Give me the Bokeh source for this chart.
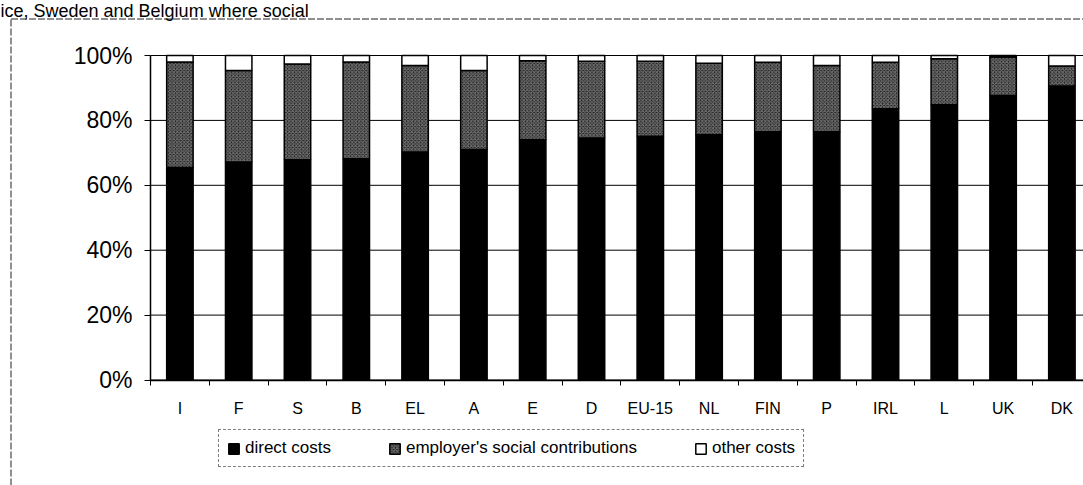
import numpy as np
from bokeh.plotting import figure
from bokeh.models import Range1d, FixedTicker, Legend, LegendItem, ColumnDataSource, Label
from bokeh.embed import file_html
from bokeh.resources import INLINE

# ---- data -------------------------------------------------------------
countries = ["I", "F", "S", "B", "EL", "A", "E", "D", "EU-15",
             "NL", "FIN", "P", "IRL", "L", "UK", "DK"]
direct_costs = [65.5, 67.2, 67.9, 68.2, 70.3, 71.0, 74.0, 74.6, 75.1,
                75.6, 76.5, 76.5, 83.6, 84.8, 87.7, 90.6]
social_contributions = [32.5, 28.2, 29.5, 29.8, 26.6, 24.4, 24.4, 23.6, 23.1,
                        22.0, 21.4, 20.4, 14.3, 14.2, 11.8, 6.2]
other_costs = [2.0, 4.6, 2.6, 2.0, 3.1, 4.6, 1.6, 1.8, 1.8,
               2.4, 2.1, 3.1, 2.1, 1.0, 0.5, 3.2]
y_tick_values = [0, 20, 40, 60, 80, 100]
y_tick_labels = ["0%", "20%", "40%", "60%", "80%", "100%"]
legend_labels = ["direct costs", "employer's social contributions", "other costs"]
caption_text = "ice, Sweden and Belgium where social"

# ---- derived ----------------------------------------------------------
n = len(countries)
xpos = np.arange(n) + 0.5
d = np.array(direct_costs)
s = np.array(social_contributions)
o = np.array(other_costs)
src = ColumnDataSource(dict(x=xpos, d_top=d, s_top=d + s, o_top=d + s + o))

FONT = "Liberation Sans"

# geometry (pixels): the frame fills the whole canvas; axes sit inside it
W, H = 1083, 485
PX_PER_CAT = 58.8
PX_PER_PCT = 3.245
AXIS_X = 150.0      # y axis, px from left
ZERO_Y = 379.5      # 0 % line, px from top
BORDER_X = 10.5     # outer chart border (left)
BORDER_Y = 18.5     # outer chart border (top)

x0 = -AXIS_X / PX_PER_CAT
x1 = x0 + W / PX_PER_CAT
y1 = ZERO_Y / PX_PER_PCT
y0 = y1 - H / PX_PER_PCT

p = figure(width=W, height=H,
           x_range=Range1d(x0, x1), y_range=Range1d(y0, y1),
           output_backend="svg", toolbar_location=None,
           min_border_left=0, min_border_right=0,
           min_border_top=0, min_border_bottom=0)
p.outline_line_color = None
p.background_fill_color = "white"
p.border_fill_color = "white"

# caption (scanned document text at the top)
p.add_layout(Label(x=x0, y=y1, text=caption_text, text_font=FONT,
                   text_font_size="18px", text_color="black",
                   text_baseline="top", text_align="left"))

# outer chart border (left and top edges)
bx = x0 + BORDER_X / PX_PER_CAT
by = y1 - BORDER_Y / PX_PER_PCT
p.segment(x0=[bx, bx], y0=[y0, by], x1=[bx, x1], y1=[by, by],
          line_color="#222222", line_width=1, line_dash="7 2")

# gridlines
p.xgrid.visible = False
p.ygrid.visible = False
p.segment(x0=[0] * len(y_tick_values), x1=[n] * len(y_tick_values),
          y0=y_tick_values, y1=y_tick_values, line_color="black", line_width=1)

bw = 0.45
r_d = p.vbar(x="x", bottom=0, top="d_top", width=bw, source=src,
             fill_color="black", line_color="black", line_width=1.5)
r_s = p.vbar(x="x", bottom="d_top", top="s_top", width=bw, source=src,
             fill_color="#222222", line_color="black", line_width=1.5,
             hatch_pattern="diagonal_cross", hatch_color="white",
             hatch_alpha=0.4, hatch_scale=3.5, hatch_weight=1)
r_o = p.vbar(x="x", bottom="s_top", top="o_top", width=bw, source=src,
             fill_color="white", line_color="black", line_width=1.5)

# y axis (fixed inside the frame)
p.yaxis.fixed_location = 0
p.yaxis.bounds = (0, 100)
p.yaxis.ticker = FixedTicker(ticks=y_tick_values)
p.yaxis.major_label_overrides = {v: lab for v, lab in zip(y_tick_values, y_tick_labels)}
p.yaxis.major_label_text_font = FONT
p.yaxis.major_label_text_font_size = "23px"
p.yaxis.major_label_text_color = "black"
p.yaxis.axis_line_color = "black"
p.yaxis.axis_line_width = 1.5
p.yaxis.major_tick_line_color = "black"
p.yaxis.major_tick_out = 6
p.yaxis.major_tick_in = 0
p.yaxis.minor_tick_line_color = None
p.yaxis.major_label_standoff = 12

# x axis (fixed at 0 %)
p.xaxis.fixed_location = 0
p.xaxis.bounds = (0, n)
p.xaxis.ticker = FixedTicker(ticks=list(xpos), minor_ticks=list(range(0, n + 1)))
p.xaxis.major_label_overrides = {float(v): c for v, c in zip(xpos, countries)}
p.xaxis.major_label_text_font = FONT
p.xaxis.major_label_text_font_size = "16px"
p.xaxis.major_label_text_color = "black"
p.xaxis.axis_line_color = "black"
p.xaxis.axis_line_width = 1.5
p.xaxis.major_tick_out = 0
p.xaxis.major_tick_in = 0
p.xaxis.minor_tick_line_color = "black"
p.xaxis.minor_tick_out = 5
p.xaxis.minor_tick_in = 0
p.xaxis.major_label_standoff = 15

# legend
legend = Legend(items=[LegendItem(label=legend_labels[0], renderers=[r_d]),
                       LegendItem(label=legend_labels[1], renderers=[r_s]),
                       LegendItem(label=legend_labels[2], renderers=[r_o])],
                orientation="horizontal", location=(218, 18),
                spacing=57, padding=8, glyph_width=13, glyph_height=13,
                label_standoff=5,
                label_text_font=FONT, label_text_font_size="17px",
                label_text_color="black",
                border_line_color="black", border_line_dash="4 2",
                border_line_width=1, background_fill_color="white",
                background_fill_alpha=1.0)
p.add_layout(legend, "center")

open("out.html", "w").write(file_html(p, INLINE))
